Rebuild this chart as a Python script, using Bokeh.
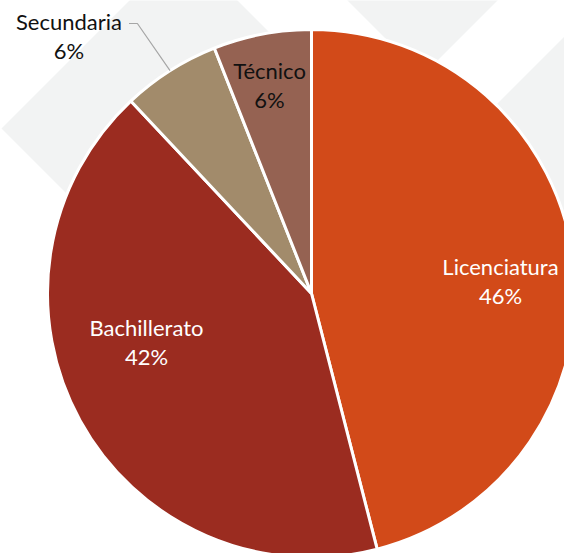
import numpy as np
from bokeh.plotting import figure
from bokeh.models import Range1d, ColumnDataSource
from bokeh.core.properties import value
from bokeh.embed import file_html
from bokeh.resources import INLINE

# ---- data ----
categories = ["Licenciatura", "Bachillerato", "Secundaria", "Técnico"]
shares = [46, 42, 6, 6]
pct_labels = ["46%", "42%", "6%", "6%"]

# ---- style ----
colors = ["#D24A19", "#9B2C20", "#A28B6B", "#956252"]
text_colors = ["#FFFFFF", "#FFFFFF", "#111111", "#111111"]
label_radius = [0.7176, 0.6509, 1.3412, 0.8075]      # in pie radii
label_nudge = [3.27, 12.58, -10.83, -0.56]            # degrees
FONT = "Lato"
FONT_SIZE = "22px"
WATERMARK = "#F2F3F3"

W, H = 564, 553


def py(y):
    """page pixel y -> data y"""
    return H - y


CX, CY, R = 311, py(293), 264

p = figure(width=W, height=H, x_range=Range1d(0, W), y_range=Range1d(0, H),
           output_backend="svg", toolbar_location=None, min_border=0,
           background_fill_color="white", border_fill_color="white")
p.axis.visible = False
p.grid.visible = False
p.outline_line_color = None

# faint watermark shapes behind the pie
wm_x = [[1, 183, 318.5, 136.5], [247, 422, 597, 422], [465, 700, 935, 700]]
wm_y = [[128, -54, 81.5, 263.5], [-100, -275, -100, 75], [135, -100, 135, 370]]
p.patches(xs=wm_x, ys=[[py(v) for v in ys] for ys in wm_y],
          fill_color=WATERMARK, line_color=None)

# pie slices (clockwise from 12 o'clock)
total = float(sum(shares))
cum = np.cumsum([0] + shares)
th0 = 360.0 * cum[:-1] / total
th1 = 360.0 * cum[1:] / total
mid = (th0 + th1) / 2.0
src = ColumnDataSource(dict(
    start=np.radians(90 - th1), end=np.radians(90 - th0), color=colors, cat=categories))
p.wedge(x=CX, y=CY, radius=R, start_angle="start", end_angle="end",
        fill_color="color", line_color="white", line_width=3, source=src)

# labels
ang = np.radians(mid + np.array(label_nudge))
rr = R * np.array(label_radius)
bx = CX + rr * np.sin(ang)
by = CY + rr * np.cos(ang)          # data y (up)
lab = ColumnDataSource(dict(x=bx, yn=by + 14, yp=by - 15, name=categories,
                            pct=pct_labels, tc=text_colors))
p.text(x="x", y="yn", text="name", source=lab, text_align="center",
       text_baseline="alphabetic", text_font=value(FONT), text_font_size=FONT_SIZE,
       text_color="tc")
p.text(x="x", y="yp", text="pct", source=lab, text_align="center",
       text_baseline="alphabetic", text_font=value(FONT), text_font_size=FONT_SIZE,
       text_color="tc")

# leader line for the outside label (Secundaria)
i = 2
sx = bx[i] + 60
sy = by[i] + 12
ex = CX + R * np.sin(np.radians(mid[i]))
ey = CY + R * np.cos(np.radians(mid[i]))
p.line(x=[sx, sx + 8.4, ex], y=[sy, sy, ey], line_color="#A6A6A6", line_width=1.2)

open("out.html", "w").write(file_html(p, INLINE))
